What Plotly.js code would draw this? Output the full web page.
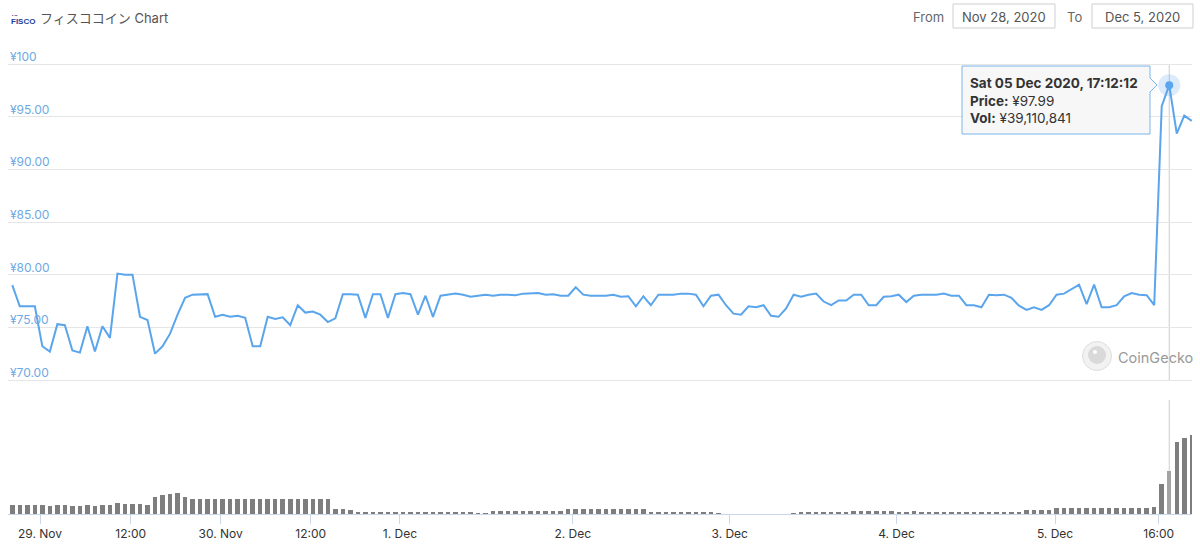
<!DOCTYPE html>
<html>
<head>
<meta charset="utf-8">
<script src="https://cdn.plot.ly/plotly-3.0.1.min.js"></script>
<style>html,body{margin:0;padding:0;background:#fff;}#chart{width:1200px;height:544px;}</style>
</head>
<body>
<div id="chart"></div>
<script>
// ---- data (hourly points, ordinal axis) ----
const price = [
79.0,77.0,77.0,77.0,73.2,72.7,75.3,75.2,72.8,72.6,
75.1,72.7,75.1,74.0,80.1,80.0,80.0,76.0,75.7,72.5,
73.2,74.4,76.2,77.8,78.1,78.1,78.15,76.0,76.2,76.0,
76.1,75.9,73.2,73.2,76.0,75.8,75.95,75.2,77.1,76.4,
76.5,76.2,75.5,75.85,78.15,78.15,78.1,75.9,78.15,78.15,
75.9,78.15,78.25,78.15,76.2,78.0,76.0,78.0,78.1,78.2,
78.1,77.9,78.0,78.1,78.0,78.1,78.1,78.05,78.2,78.2,
78.25,78.1,78.15,78.0,78.0,78.8,78.1,78.0,78.0,78.0,
78.1,77.9,77.95,77.0,77.95,77.1,78.1,78.1,78.1,78.2,
78.2,78.1,77.0,78.0,78.1,77.1,76.3,76.2,77.0,76.9,
77.1,76.1,76.0,76.8,78.1,77.9,78.1,78.2,77.45,77.1,
77.55,77.55,78.1,78.1,77.1,77.1,77.9,77.95,78.1,77.4,
78.0,78.1,78.1,78.1,78.2,78.0,78.0,77.1,77.1,76.9,
78.1,78.05,78.1,77.8,77.05,76.65,76.9,76.65,77.1,78.1,
78.2,78.6,79.05,77.2,79.05,76.9,76.9,77.1,77.95,78.25,
78.1,78.05,77.1,96.0,97.99,93.4,95.1,94.6
];
// volume in millions of yen
const volume = [
8.2,8.2,8.2,8.2,8.2,7.3,8.2,8.2,7.3,7.3,8.2,7.3,8.2,8.2,
10.0,9.1,9.1,9.1,8.2,
15.5,17.3,18.2,19.1,15.5,
13.6,13.6,13.6,13.2,13.2,13.2,13.2,13.2,13.2,13.2,13.6,13.2,13.2,13.2,13.6,13.2,13.2,13.2,13.6,
4.5,4.5,3.6,
1.8,1.8,1.8,1.8,1.8,1.8,1.8,1.8,1.8,1.8,1.8,1.8,1.8,1.8,1.8,1.8,
0.9,0.9,
2.7,2.7,2.7,2.7,2.7,2.7,2.7,2.7,2.7,2.7,
4.3,4.3,4.3,4.3,4.3,4.3,4.3,4.3,4.3,4.3,4.3,
1.8,1.8,1.8,1.8,1.8,1.8,1.8,1.8,1.8,
0.9,
0,0,0,0,0,0,0,0,0,
0.9,
1.4,1.4,1.4,1.4,1.4,1.4,1.4,
2.7,2.7,2.7,2.7,2.7,2.7,
1.4,1.4,
2.7,
1.4,1.4,1.4,1.4,1.4,1.4,1.4,1.4,1.4,1.4,1.4,1.4,1.4,1.4,
3.2,3.2,3.2,3.2,
5.5,5.5,5.5,5.5,5.5,5.5,5.5,5.5,5.5,5.5,5.5,5.5,5.5,
6.4,
27.3,39.110841,65.5,69.1,71.9
];
const tickPos = [3.69, 15.76, 27.74, 39.72, 51.6, 74.6, 95.5, 117.7, 138.8, 152.6];
const tickLabels = ['29. Nov','12:00','30. Nov','12:00','1. Dec','2. Dec','3. Dec','4. Dec','5. Dec','16:00'];
const priceTicks = [70,75,80,85,90,95,100];
const priceTickLabels = ['¥70.00','¥75.00','¥80.00','¥85.00','¥90.00','¥95.00','¥100'];
const hoverTime = 'Sat 05 Dec 2020, 17:12:12';
const chartTitle = 'フィスココイン Chart';
const fromDate = 'Nov 28, 2020';
const toDate = 'Dec 5, 2020';

// ---- derived ----
const idx = price.map((_, i) => i);
let hi = 0;
price.forEach((p, i) => { if (p > price[hi]) hi = i; });
const barColors = volume.map((_, i) => i === hi ? '#a3a3a3' : '#7e7e7e');

const W = 1200, H = 544;
const px = x => x / W;
const py = y => 1 - y / H;
const FONT = 'Inter, "Liberation Sans", "Noto Sans CJK JP", sans-serif';
const LINE = '#5aa5ec';

const fmtYen = v => '¥' + v.toLocaleString('en-US');

const traces = [
  {
    x: idx, y: volume, type: 'bar', xaxis: 'x', yaxis: 'y2',
    width: 0.6, marker: {color: barColors, line: {width: 0}}, hoverinfo: 'skip'
  },
  {
    x: idx, y: price, type: 'scatter', mode: 'lines', xaxis: 'x', yaxis: 'y',
    line: {color: LINE, width: 2}, hoverinfo: 'skip'
  },
  {
    x: [hi], y: [price[hi]], type: 'scatter', mode: 'markers', xaxis: 'x', yaxis: 'y',
    marker: {size: 22, color: 'rgba(90,165,236,0.22)'}, hoverinfo: 'skip'
  },
  {
    x: [hi], y: [price[hi]], type: 'scatter', mode: 'markers', xaxis: 'x', yaxis: 'y',
    marker: {size: 8, color: LINE}, hoverinfo: 'skip'
  }
];

// price pane: 70 at y=380px, 100 at y=64px; padded slightly so edge gridlines draw
const yPriceDom = [py(381.05), py(62.95)];
const yVolDom = [py(514), py(400)];

const shapes = [
  // crosshair
  {type: 'line', xref: 'x', yref: 'paper', x0: hi, x1: hi, y0: py(380), y1: py(64), line: {color: '#cccccc', width: 1}, layer: 'below'},
  {type: 'line', xref: 'x', yref: 'paper', x0: hi, x1: hi, y0: yVolDom[0], y1: yVolDom[1], line: {color: '#cccccc', width: 1}, layer: 'below'},
  // date boxes
  {type: 'rect', xref: 'paper', yref: 'paper', x0: px(953), x1: px(1055), y0: py(28), y1: py(4), line: {color: '#cfcfcf', width: 1}, fillcolor: '#ffffff'},
  {type: 'rect', xref: 'paper', yref: 'paper', x0: px(1092), x1: px(1193), y0: py(28), y1: py(4), line: {color: '#cfcfcf', width: 1}, fillcolor: '#ffffff'},
  // tooltip box with arrow
  {type: 'path', xref: 'paper', yref: 'paper',
   path: `M ${px(962)},${py(66)} L ${px(1150)},${py(66)} L ${px(1150)},${py(78)} L ${px(1157)},${py(85)} L ${px(1150)},${py(92)} L ${px(1150)},${py(134)} L ${px(962)},${py(134)} Z`,
   fillcolor: 'rgba(247,247,247,0.95)', line: {color: '#7cb5ec', width: 1}},
  // CoinGecko logo
  {type: 'circle', xref: 'paper', yref: 'paper', x0: px(1082.5), x1: px(1111.5), y0: py(370.5), y1: py(341.5), fillcolor: '#f2f2f2', line: {color: '#dddddd', width: 1}},
  {type: 'circle', xref: 'paper', yref: 'paper', x0: px(1088), x1: px(1106), y0: py(364), y1: py(346), fillcolor: '#d9d9d9', line: {width: 0}},
  {type: 'circle', xref: 'paper', yref: 'paper', x0: px(1093), x1: px(1097), y0: py(354), y1: py(350), fillcolor: '#ffffff', line: {width: 0}}
];

const annotations = [
  {xref: 'paper', yref: 'paper', x: px(9), y: py(22), xanchor: 'left', yanchor: 'middle', showarrow: false,
   text: '<b>FISCO</b>', font: {family: 'Liberation Sans, sans-serif', size: 8, color: '#1f3f9e'}},
  {xref: 'paper', yref: 'paper', x: px(10), y: py(15), xanchor: 'left', yanchor: 'middle', showarrow: false,
   text: '<b>▪ ▪▪</b>', font: {family: 'Liberation Sans, sans-serif', size: 4, color: '#1f3f9e'}},
  {xref: 'paper', yref: 'paper', x: px(38), y: py(18), xanchor: 'left', yanchor: 'middle', showarrow: false,
   text: chartTitle, font: {family: FONT, size: 13, color: '#555555'}},
  {xref: 'paper', yref: 'paper', x: px(928), y: py(17), xanchor: 'center', yanchor: 'middle', showarrow: false,
   text: 'From', font: {family: FONT, size: 13, color: '#666666'}},
  {xref: 'paper', yref: 'paper', x: px(1004), y: py(17), xanchor: 'center', yanchor: 'middle', showarrow: false,
   text: fromDate, font: {family: FONT, size: 13, color: '#555555'}},
  {xref: 'paper', yref: 'paper', x: px(1074), y: py(17), xanchor: 'center', yanchor: 'middle', showarrow: false,
   text: 'To', font: {family: FONT, size: 13, color: '#666666'}},
  {xref: 'paper', yref: 'paper', x: px(1142), y: py(17), xanchor: 'center', yanchor: 'middle', showarrow: false,
   text: toDate, font: {family: FONT, size: 13, color: '#555555'}},
  {xref: 'paper', yref: 'paper', x: px(968), y: py(73), xanchor: 'left', yanchor: 'top', align: 'left', showarrow: false,
   text: `<b>${hoverTime}</b><br><b>Price:</b> ${fmtYen(price[hi])}<br><b>Vol:</b> ${fmtYen(Math.round(volume[hi] * 1e6))}`,
   font: {family: FONT, size: 13.5, color: '#333333'}},
  {xref: 'paper', yref: 'paper', x: px(1116), y: py(357), xanchor: 'left', yanchor: 'middle', showarrow: false,
   text: 'CoinGecko', font: {family: FONT, size: 14.5, color: '#999999'}}
];
// price axis labels, drawn above their gridlines at the left edge
priceTicks.forEach((v, i) => {
  annotations.push({xref: 'paper', yref: 'y', x: px(8), y: v, xanchor: 'left', yanchor: 'bottom',
    showarrow: false, text: priceTickLabels[i], yshift: -2,
    font: {family: FONT, size: 12, color: '#6ea9e3'}});
});

const layout = {
  width: W, height: H,
  margin: {l: 0, r: 0, t: 0, b: 0, pad: 0},
  paper_bgcolor: '#ffffff', plot_bgcolor: '#ffffff',
  showlegend: false, hovermode: false,
  font: {family: FONT},
  bargap: 0,
  xaxis: {
    domain: [px(8), px(1192)], range: [-0.57, 157.03], anchor: 'y2',
    showgrid: false, zeroline: false, showline: true, linecolor: '#ccd6eb', linewidth: 1,
    ticks: 'outside', ticklen: 9, tickcolor: '#ccd6eb', tickwidth: 1,
    tickmode: 'array', tickvals: tickPos, ticktext: tickLabels,
    tickfont: {family: FONT, size: 12, color: '#333333'}, fixedrange: true
  },
  yaxis: {
    domain: yPriceDom, range: [69.9, 100.1], anchor: 'x',
    tickmode: 'array', tickvals: priceTicks, showticklabels: false, ticks: '',
    showgrid: true, gridcolor: '#e6e6e6', gridwidth: 1, zeroline: false, showline: false,
    fixedrange: true
  },
  yaxis2: {
    domain: yVolDom, range: [0, 103.7], anchor: 'x',
    showgrid: false, zeroline: false, showline: false, showticklabels: false, ticks: '', fixedrange: true
  },
  shapes: shapes,
  annotations: annotations
};

Plotly.newPlot('chart', traces, layout, {displayModeBar: false, staticPlot: true});
</script>
</body>
</html>
